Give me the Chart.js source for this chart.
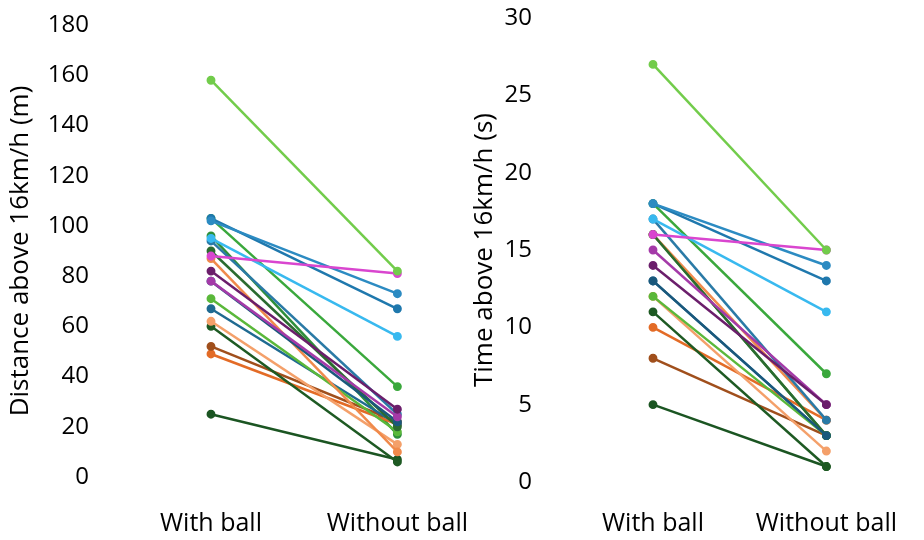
<!DOCTYPE html>
<html>
<head>
<meta charset="utf-8">
<script src="https://cdn.jsdelivr.net/npm/chart.js@4.4.0/dist/chart.umd.min.js"></script>
<style>
    body { margin: 0; background: #fff; }
    .wrap { position: relative; width: 924px; height: 540px; overflow: hidden; }
    .panel { position: absolute; top: 0; height: 540px; }
    #panel-distance { left: 0; width: 500px; }
    #panel-time { left: 440px; width: 484px; }
</style>
</head>
<body>
<div class="wrap">
    <div class="panel" id="panel-distance"><canvas id="distance"></canvas></div>
    <div class="panel" id="panel-time"><canvas id="time"></canvas></div>
</div>
<script>
const categories = ['With ball', 'Without ball'];

// one colour per player, same order in every array below
const playerColors = [
    '#72cc4b', '#d946cf', '#2c8bc2', '#1f78ad', '#38b9ef',
    '#3aa83c', '#6b1e6b', '#a43aa8', '#1a587c', '#2a7aa6',
    '#2b6b2f', '#f08a4b', '#5ab83a', '#1f6a91', '#f4a06a',
    '#1e5a23', '#a04f1c', '#e36b26', '#1b5522', '#2e8f3a'
];

// distance above 16km/h (m)
const distWith    = [158, 88, 102, 103, 95, 103, 82, 78, 78, 94, 90, 87, 71, 67, 62, 60, 52, 49, 25, 96];
const distWithout = [ 82, 81,  73,  67, 56,  36, 27, 24, 22, 25, 20, 10, 18, 21, 13,  6, 22, 21,  7, 17];

// time above 16km/h (s)
const timeWith    = [27, 16, 18, 18, 17, 18, 14, 15, 13, 17, 16, 16, 12, 13, 12, 11,  8, 10,  5, 16];
const timeWithout = [15, 15, 14, 13, 11,  7,  5,  5,  3,  4,  3,  4,  3,  3,  2,  1,  3,  4,  1,  3];

const distTicks = { min: 0, max: 180, step: 20 };
const timeTicks = { min: 0, max: 30, step: 5 };

const font = { family: "'Open Sans', sans-serif", size: 24 };
const catFont = { family: "'Open Sans', sans-serif", size: 25 };
const titleFont = { family: "'Open Sans', sans-serif", size: 26 };

document.addEventListener('DOMContentLoaded', function () {
    slopeChart(document.getElementById('distance'), distWith, distWithout, distTicks, {
        title: 'Distance above 16km/h (m)',
        padding: { top: 25, right: 98, bottom: 1, left: 0 },
        titlePadding: { top: 5, bottom: 10 },
        tickPadding: 122,
        yWidth: 211,
        xHeight: 62,
        xPadding: 32,
    });
    slopeChart(document.getElementById('time'), timeWith, timeWithout, timeTicks, {
        title: 'Time above 16km/h (s)',
        padding: { top: 18, right: 81, bottom: 1, left: 0 },
        titlePadding: { top: 29, bottom: 5 },
        tickPadding: 121,
        yWidth: 213,
        xHeight: 57,
        xPadding: 27,
    });
});

function slopeChart(canvas, withVals, withoutVals, ticks, opt) {
    const datasets = playerColors.map((c, i) => {
        return {
            data: [withVals[i], withoutVals[i]],
            borderColor: c,
            backgroundColor: c,
            pointBackgroundColor: c,
            pointBorderColor: c,
            borderWidth: 2.5,
            pointRadius: 3.2,
        };
    });

    const config = {
        type: 'line',
        data: { labels: categories, datasets: datasets },
        options: {
            responsive: true,
            maintainAspectRatio: false,
            animation: false,
            layout: { padding: opt.padding },
            plugins: {
                legend: { display: false },
                tooltip: { enabled: false },
            },
            scales: {
                x: {
                    offset: false,
                    grid: { display: false, drawTicks: false },
                    border: { display: false },
                    ticks: { color: '#000', font: catFont, padding: opt.xPadding, maxRotation: 0 },
                    afterFit: (scale) => { scale.height = opt.xHeight; },
                },
                y: {
                    min: ticks.min,
                    max: ticks.max,
                    grid: { display: false, drawTicks: false },
                    border: { display: false },
                    ticks: { stepSize: ticks.step, color: '#000', font: font, padding: opt.tickPadding },
                    title: { display: true, text: opt.title, color: '#000', font: titleFont, padding: opt.titlePadding },
                    afterFit: (scale) => {
                        // the big tick padding would otherwise be added above and below the axis too
                        scale.width = opt.yWidth;
                        scale.paddingTop = 0;
                        scale.paddingBottom = 0;
                    },
                },
            },
        },
    };
    return new Chart(canvas, config);
}
</script>
</body>
</html>
